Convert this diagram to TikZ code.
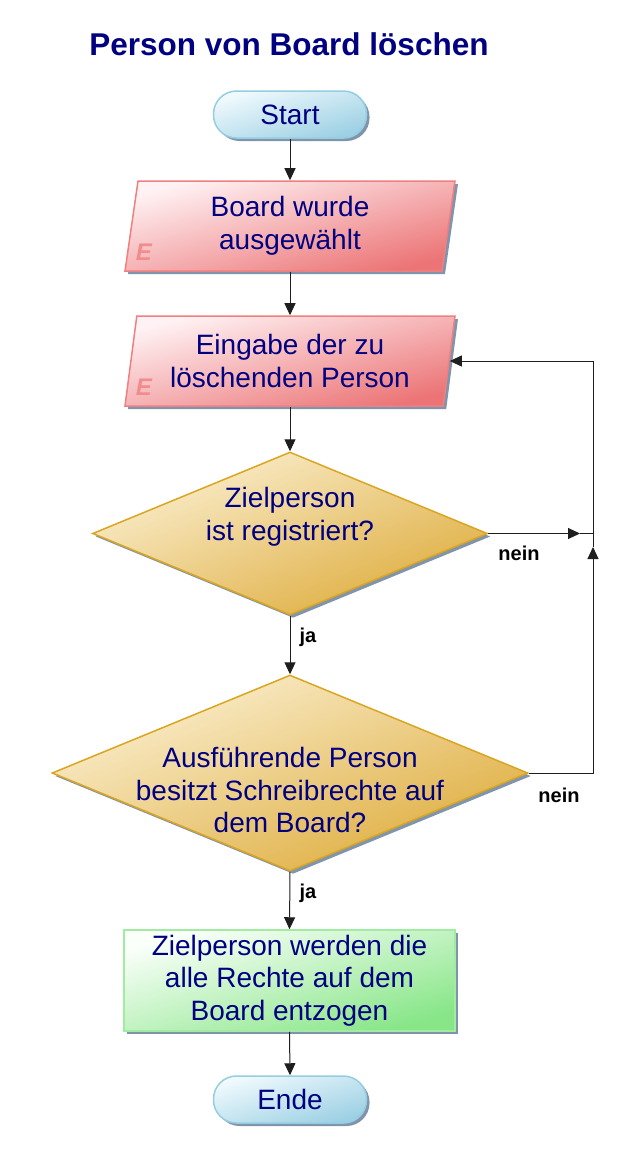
\documentclass[tikz,border=0pt]{standalone}
\usepackage{fontspec}
\setmainfont{Liberation Sans}
\usetikzlibrary{shapes.geometric,arrows.meta,shadows}
\definecolor{navy}{RGB}{0,0,128}
\definecolor{shadowc}{RGB}{128,148,172}
\definecolor{terml}{RGB}{240,250,253}
\definecolor{termd}{RGB}{156,208,228}
\definecolor{termb}{RGB}{150,205,225}
\definecolor{iol}{RGB}{255,242,244}
\definecolor{iod}{RGB}{236,116,118}
\definecolor{iob}{RGB}{238,128,128}
\definecolor{ecol}{RGB}{242,140,140}
\definecolor{decl}{RGB}{251,240,210}
\definecolor{decd}{RGB}{222,172,60}
\definecolor{decb}{RGB}{218,165,32}
\definecolor{procl}{RGB}{250,255,250}
\definecolor{procd}{RGB}{136,230,136}
\definecolor{procb}{RGB}{160,236,160}
\definecolor{linec}{RGB}{30,30,30}
\begin{document}
\begin{tikzpicture}[x=1pt,y=-1pt,
  base/.style={drop shadow={shadow xshift=3pt,shadow yshift=-3pt,fill=shadowc,opacity=1},
    line width=1.5pt, text=navy, font=\fontsize{28}{32.5}\selectfont, align=center, inner sep=0pt},
  term/.style={base, rectangle, rounded corners=23pt, minimum width=153pt, minimum height=47pt,
    draw=termb, top color=terml, bottom color=termd, shading angle=17},
  io/.style={base, trapezium, trapezium left angle=77.47, trapezium right angle=102.53,
    trapezium stretches body, minimum width=330pt, minimum height=90pt,
    draw=iob, top color=iol, bottom color=iod, shading angle=15},
  dec/.style={base, diamond, draw=decb, top color=decl, bottom color=decd, shading angle=22},
  proc/.style={base, rectangle, minimum width=331pt, minimum height=101pt,
    draw=procb, top color=procl, bottom color=procd, shading angle=17},
  txt/.style={text=navy, font=\fontsize{28}{32.5}\selectfont, align=center, inner sep=0pt},
  emark/.style={text=ecol, font=\fontsize{24}{24}\selectfont\bfseries\itshape, inner sep=0pt},
  lbl/.style={text=black, font=\fontsize{20}{20}\selectfont\bfseries, inner sep=0pt},
  conn/.style={draw=linec, line width=1pt, -{Triangle[length=12pt,width=11pt]}},
  plain/.style={draw=linec, line width=1pt}
]
\useasboundingbox (0,0) rectangle (637,1165);

\node[text=navy, font=\fontsize{31.5}{31.5}\selectfont\bfseries, inner sep=0pt, anchor=base] (title) at (289,55) {Person von Board löschen};

\node[term] (start) at (290,114.5) {Start};
\node[io] (p1) at (290,226) {Board wurde\\ausgewählt};
\node[emark] (e1) at (144,252) {E};
\node[io] (p2) at (290,361) {Eingabe der zu\\löschenden Person};
\node[emark] (e2) at (144,387) {E};
\node[dec, minimum width=395pt, minimum height=163pt] (d1) at (290,533.5) {};
\node[txt] (d1t) at (290,517) {Zielperson\\ist registriert?};
\node[dec, minimum width=476pt, minimum height=196pt] (d2) at (290,773) {};
\node[txt] (d2t) at (290,790) {Ausführende Person\\besitzt Schreibrechte auf\\dem Board?};
\node[proc] (pr) at (289.5,980.5) {Zielperson werden die\\alle Rechte auf dem\\Board entzogen};
\node[term] (ende) at (290,1099.5) {Ende};

\draw[conn] (start.south) -- (start.south |- p1.north);
\draw[conn] (p1.center |- p1.south) -- (p1.center |- p2.north);
\draw[conn] (p2.center |- p2.south) -- (d1.north);
\draw[conn] (d1.south) -- (d2.north);
\draw[conn] (d2.south) -- (pr.north);
\draw[conn] (pr.south) -- (ende.north);

\coordinate (j) at (593,533.5);
\coordinate (a1) at (580,533.5);
\coordinate (a2) at (593,547);
\draw[conn] (d1.east) -- (a1);
\draw[plain] (a1) -- (j);
\draw[conn] (d2.east) -| (a2);
\draw[plain] (a2) -- (j);
\draw[conn] (j) |- (p2.east);

\node[lbl] (n1) at (519,553) {nein};
\node[lbl] (n2) at (559,795) {nein};
\node[lbl] (y1) at (308,637) {ja};
\node[lbl] (y2) at (308,893) {ja};
\end{tikzpicture}
\end{document}
